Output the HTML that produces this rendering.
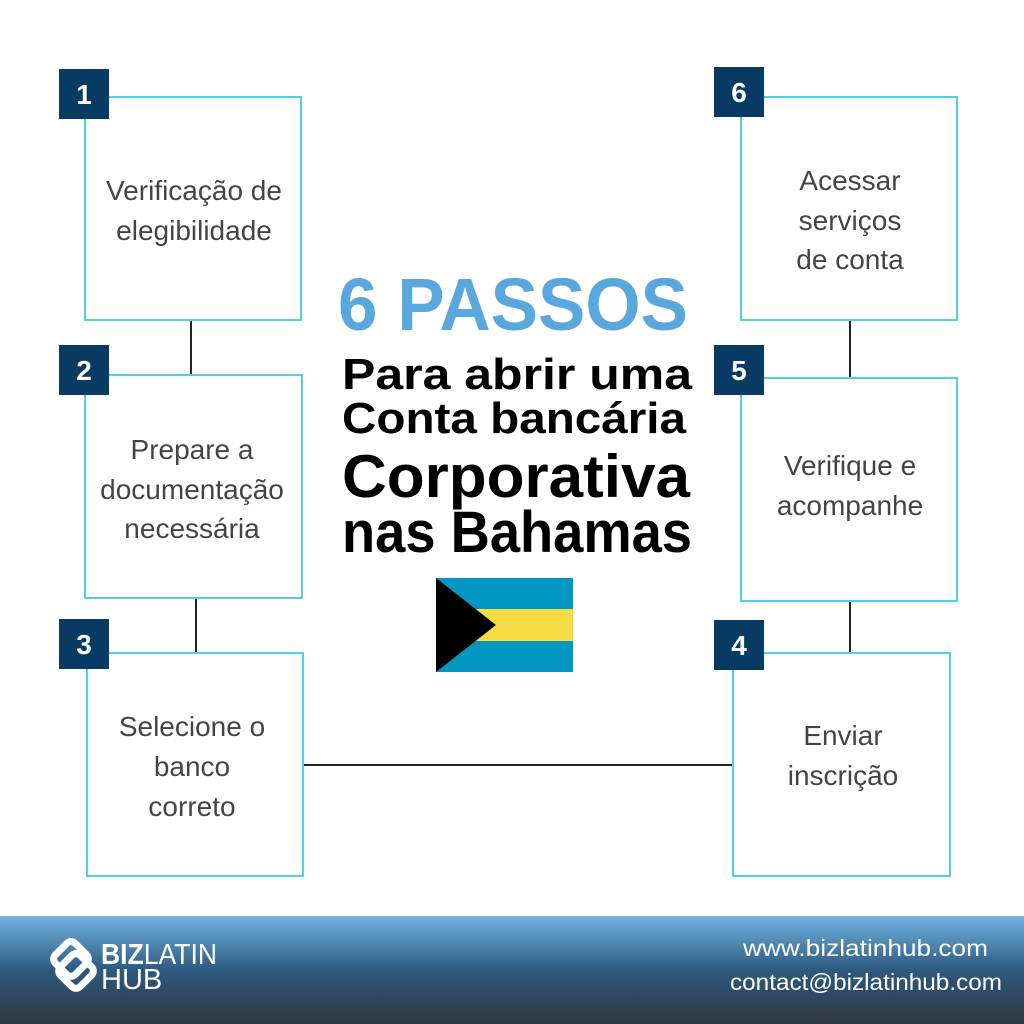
<!DOCTYPE html>
<html><head><meta charset="utf-8"><style>
html,body{margin:0;padding:0;width:1024px;height:1024px;overflow:hidden;background:#fff}
</style></head><body>
<svg width="1024" height="1024" viewBox="0 0 1024 1024" xmlns="http://www.w3.org/2000/svg" font-family="Liberation Sans, sans-serif">
<defs>
<linearGradient id="g" x1="0" y1="0" x2="0" y2="1">
<stop offset="0" stop-color="#72b4e2"/>
<stop offset="0.5" stop-color="#2d5a80"/>
<stop offset="1" stop-color="#30363f"/>
</linearGradient>
</defs>
<rect width="1024" height="1024" fill="#fff"/>
<g stroke="#222" stroke-width="2">
<line x1="191" y1="320" x2="191" y2="376"/>
<line x1="196" y1="598" x2="196" y2="654"/>
<line x1="850" y1="320" x2="850" y2="378"/>
<line x1="850" y1="601" x2="850" y2="656"/>
<line x1="303" y1="765" x2="733" y2="765"/>
</g>
<g fill="#fff" stroke="#4fd0e4" stroke-width="2">
<rect x="85" y="97" width="216" height="223"/>
<rect x="85" y="375" width="217" height="223"/>
<rect x="87" y="653" width="216" height="223"/>
<rect x="741" y="97" width="216" height="223"/>
<rect x="741" y="378" width="216" height="223"/>
<rect x="733" y="653" width="217" height="223"/>
</g>
<g fill="#073b64">
<rect x="59" y="69" width="50" height="50"/>
<rect x="59" y="345" width="50" height="50"/>
<rect x="59" y="619" width="50" height="50"/>
<rect x="714" y="67" width="50" height="50"/>
<rect x="714" y="345" width="50" height="50"/>
<rect x="714" y="620" width="50" height="50"/>
</g>
<g fill="#fff" font-weight="bold" font-size="28" text-anchor="middle">
<text x="84" y="104">1</text>
<text x="84" y="380">2</text>
<text x="84" y="654">3</text>
<text x="739" y="102">6</text>
<text x="739" y="380">5</text>
<text x="739" y="655">4</text>
</g>
<g fill="#444" font-size="28" text-anchor="middle">
<text x="194" y="200">Verificação de</text>
<text x="194" y="240">elegibilidade</text>
<text x="192" y="459">Prepare a</text>
<text x="192" y="499">documentação</text>
<text x="192" y="538">necessária</text>
<text x="192" y="736">Selecione o</text>
<text x="192" y="776">banco</text>
<text x="192" y="816">correto</text>
<text x="850" y="190">Acessar</text>
<text x="850" y="230">serviços</text>
<text x="850" y="269">de conta</text>
<text x="850" y="475">Verifique e</text>
<text x="850" y="515">acompanhe</text>
<text x="843" y="745">Enviar</text>
<text x="843" y="785">inscrição</text>
</g>
<text x="338" y="330" font-size="74" font-weight="bold" fill="#59a7dc" textLength="350" lengthAdjust="spacingAndGlyphs">6 PASSOS</text>
<g font-weight="bold" fill="#000">
<text x="342" y="389" font-size="44" textLength="350" lengthAdjust="spacingAndGlyphs">Para abrir uma</text>
<text x="342" y="433" font-size="44" textLength="344" lengthAdjust="spacingAndGlyphs">Conta bancária</text>
<text x="342" y="497" font-size="60" textLength="348" lengthAdjust="spacingAndGlyphs">Corporativa</text>
<text x="342" y="552" font-size="58" textLength="350" lengthAdjust="spacingAndGlyphs">nas Bahamas</text>
</g>
<rect x="436" y="578" width="137" height="94" fill="#0098c3"/>
<rect x="436" y="609" width="137" height="32" fill="#f8dc45"/>
<polygon points="436,578 496,625 436,672" fill="#000"/>
<rect x="0" y="916" width="1024" height="108" fill="url(#g)"/>
<g fill="none" stroke="#fff" stroke-width="7">
<rect x="57" y="945" width="28" height="28" rx="6" transform="rotate(45 71 959)"/>
<rect x="62" y="957" width="28" height="28" rx="6" transform="rotate(45 76 971)"/>
</g>
<text x="101" y="964" font-size="29" fill="#fff" textLength="116" lengthAdjust="spacingAndGlyphs"><tspan font-weight="bold">BIZ</tspan>LATIN</text>
<text x="101" y="989" font-size="29" fill="#fff">HUB</text>
<g fill="#fff" font-size="23" text-anchor="end">
<text x="988" y="956" textLength="245" lengthAdjust="spacingAndGlyphs">www.bizlatinhub.com</text>
<text x="1002" y="990" textLength="272" lengthAdjust="spacingAndGlyphs">contact@bizlatinhub.com</text>
</g>
</svg>
</body></html>
